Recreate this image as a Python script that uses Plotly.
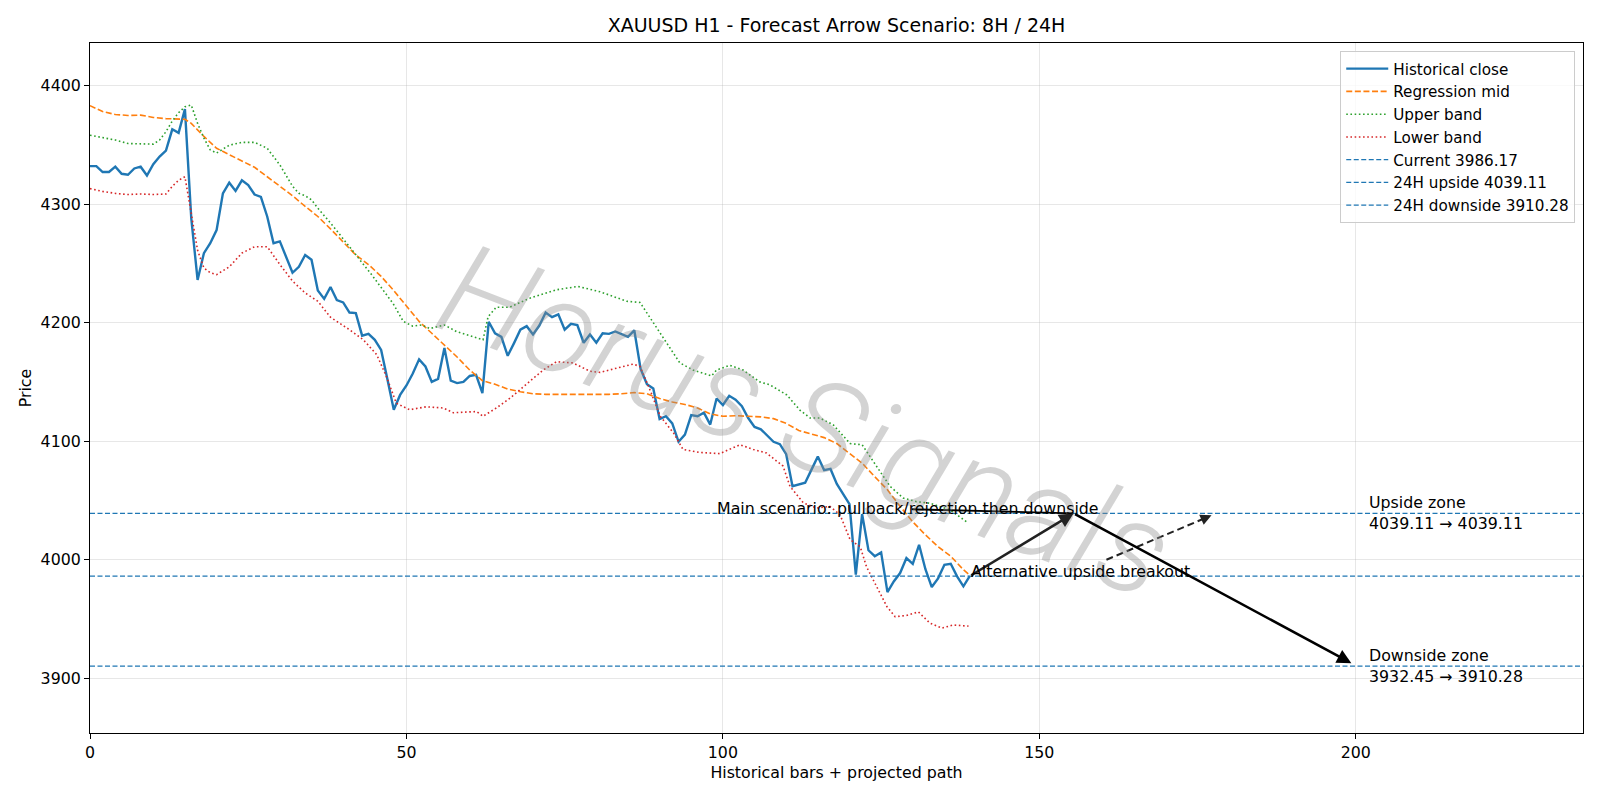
import plotly.graph_objects as go

# ---------------- data ----------------
close = [4332, 4332, 4327, 4327, 4331.5, 4325.5, 4324.7, 4330, 4331.5, 4324,
         4333.6, 4340, 4345, 4363, 4360, 4380, 4288, 4236, 4258.6, 4267,
         4278, 4309, 4318, 4311, 4320, 4316, 4308, 4306, 4289.5, 4267,
         4268.5, 4256, 4242, 4247, 4257, 4253, 4227, 4220, 4230, 4219,
         4217, 4208.5, 4208, 4189, 4190.5, 4185.5, 4177, 4152, 4126.5, 4139,
         4147, 4157, 4169, 4163, 4150, 4152.6, 4178.5, 4151, 4149, 4150,
         4155, 4156, 4140.5, 4200.7, 4191, 4188, 4172, 4182.7, 4194, 4197,
         4190, 4197.5, 4208.5, 4204.6, 4207, 4194, 4199, 4198, 4183, 4190,
         4183, 4191, 4190.5, 4192.5, 4190.5, 4188, 4193.5, 4161, 4148, 4144.5,
         4118.6, 4121, 4115, 4099.5, 4105.5, 4122, 4121, 4124, 4114, 4136,
         4130.5, 4138.3, 4135, 4129.5, 4119.5, 4112, 4110, 4104.6, 4099.5, 4097.5,
         4089, 4062, 4063.5, 4065, 4076, 4087, 4075.5, 4076.6, 4064, 4055,
         4047, 3987.4, 4038.5, 4008, 4003, 4006.2, 3972.7, 3981.7, 3988.8, 4001.4,
         3996.6, 4012.6, 3992, 3977, 3984.3, 3995.8, 3996.6, 3986, 3977.6, 3986.17]
bars = list(range(len(close)))

mid_x = [0, 2, 4, 6, 8, 10, 12, 14, 15, 16, 18, 20, 22, 24, 26, 28, 30, 32, 34, 36,
         38, 40, 42, 44, 46, 48, 50, 52, 54, 56, 58, 60, 62, 64, 66, 68, 70, 72, 74, 76,
         78, 80, 82, 84, 86, 88, 90, 92, 94, 96, 98, 100, 102, 104, 106, 108, 110, 112, 114, 116,
         118, 120, 122, 124, 126, 128, 130, 132, 134, 136, 138, 139]
mid_y = [4383, 4378, 4375.5, 4374.7, 4375, 4373, 4372, 4371.5, 4371.5, 4368, 4357, 4347, 4341.5, 4336, 4331, 4323, 4315, 4307, 4298, 4289.5,
         4279, 4268, 4257, 4249, 4239, 4227, 4214, 4201, 4191, 4181, 4171, 4160, 4151, 4148, 4144, 4141.7, 4140, 4139.5, 4139.5, 4139.5,
         4139, 4139, 4139.5, 4140, 4141, 4140, 4136, 4133, 4131, 4128, 4123, 4121, 4121.5, 4121, 4120.5, 4119, 4115, 4109, 4106, 4103,
         4098, 4090, 4081.5, 4070, 4059, 4045, 4032, 4021, 4011, 4003, 3991.6, 3987]

upper_x = [0, 2, 4, 6, 8, 10, 11, 12, 13, 14, 15, 16, 17, 18, 19, 20, 22, 24, 26, 28,
           30, 32, 33, 34, 35, 36, 38, 40, 41, 44.7, 47.9, 49.5, 51, 52.4, 53.7, 56, 57.9, 60, 62.1, 62.9,
           64.2, 66.3, 69.5, 73.7, 77.1, 80.6, 84.8, 86.9, 89, 91.1, 93.2, 95.3, 98.2, 99, 101.1, 103.2, 105.8, 107.4, 110.1, 112.2,
           113.8, 115.3, 117.4, 120.1, 122, 124.3, 126.4, 128.5, 130.6, 132.7, 135.9, 138.5]
upper_y = [4358, 4356, 4354, 4351, 4351, 4350.5, 4354, 4361, 4370, 4377, 4382, 4383.5, 4368, 4355.5, 4345.7, 4343, 4349.6, 4352, 4352, 4347,
           4333, 4315, 4309, 4307, 4303.5, 4296.5, 4284, 4271, 4264, 4239, 4216, 4201, 4197, 4198, 4195, 4198, 4192.5, 4189, 4185.5, 4205,
           4213, 4213, 4220.6, 4227.7, 4230.5, 4226, 4218, 4217, 4199.5, 4183, 4166, 4160, 4155, 4160, 4164, 4160, 4150, 4147.6, 4139, 4126,
           4119.5, 4119.5, 4114, 4098, 4097, 4079, 4062, 4052, 4049, 4047.7, 4042, 4032]

lower_x = [0, 2, 4, 6, 8, 10, 12, 13, 14, 15, 16, 17, 18, 19, 20, 22, 24, 26, 28, 29,
           30, 32, 34, 36, 38, 41, 43.2, 45.3, 46.8, 48.4, 50.5, 53.1, 55.8, 57.4, 61.1, 62.1, 64.2, 66.3, 69.5, 71.6,
           73.7, 76.3, 79, 80.6, 83.2, 85.8, 86.9, 88.5, 90.1, 92.2, 93.7, 96.3, 99.5, 102.7, 104.8, 106.9, 109.5, 110.6, 112.7, 114.8,
           116.9, 118.5, 120.1, 121.7, 122.7, 124.3, 125.9, 127.2, 129, 130.9, 132.7, 134.6, 136.4, 138.8]
lower_y = [4313, 4310.6, 4309, 4308, 4308.5, 4308, 4308.5, 4315, 4320, 4323, 4292, 4261, 4246, 4242, 4240.5, 4247, 4258.6, 4264, 4264, 4256,
           4249, 4235, 4225, 4218, 4204.5, 4194, 4185.5, 4173, 4155, 4132, 4126.5, 4129, 4128, 4124, 4125, 4121, 4128, 4136, 4150, 4160,
           4167, 4166, 4159, 4158, 4161.6, 4165, 4163, 4143, 4121, 4107, 4093, 4090.5, 4089.5, 4097, 4093, 4090, 4079, 4062, 4048, 4043.6,
           4045, 4038, 4017, 4011, 3994, 3977.5, 3960.6, 3952, 3953, 3956, 3946.6, 3942.4, 3945, 3944]

current = 3986.17
up_24h = 4039.11
down_24h = 3910.28
down_8h = 3932.45

# projected path (bar index, price)
path_x = [139, 155.4, 199.3]
path_y = [current, up_24h, 3912.8]
alt_x = [160.6, 177.2]
alt_y = [4000.0, 4037.5]

x_range = [0, 235.9]
y_range = [3853.9, 4435.8]

FONT = "DejaVu Sans"
FS = 15.8
C0 = "#1f77b4"

fig = go.Figure()
fig.add_trace(go.Scatter(x=bars, y=close, mode="lines", name="Historical close",
                         line=dict(color=C0, width=2.4)))
fig.add_trace(go.Scatter(x=mid_x, y=mid_y, mode="lines", name="Regression mid",
                         line=dict(color="#ff7f0e", width=1.6, dash="6px,2.6px")))
fig.add_trace(go.Scatter(x=upper_x, y=upper_y, mode="lines", name="Upper band",
                         line=dict(color="#2ca02c", width=1.6, dash="1.6px,2.6px")))
fig.add_trace(go.Scatter(x=lower_x, y=lower_y, mode="lines", name="Lower band",
                         line=dict(color="#d62728", width=1.6, dash="1.6px,2.6px")))
for val, nm in [(current, f"Current {current:.2f}"),
                (up_24h, f"24H upside {up_24h:.2f}"),
                (down_24h, f"24H downside {down_24h:.2f}")]:
    fig.add_trace(go.Scatter(x=x_range, y=[val, val], mode="lines", name=nm,
                             line=dict(color=C0, width=1.3, dash="5px,2.5px")))

anns = []
# watermark
anns.append(dict(x=113.1, y=4117, xref="x", yref="y", text="Horus Signals",
                 showarrow=False, textangle=21,
                 font=dict(family="Roboto", size=130, color="rgba(140,140,140,0.38)",
                           weight=300, style="italic")))
# main path arrows
anns.append(dict(x=path_x[1], y=path_y[1], ax=path_x[0], ay=path_y[0], xref="x", yref="y",
                 axref="x", ayref="y", text="", showarrow=True, arrowhead=2, arrowsize=1.1,
                 arrowwidth=2.6, arrowcolor="#222222", standoff=0, startstandoff=0))
anns.append(dict(x=path_x[2], y=path_y[2], ax=path_x[1], ay=path_y[1], xref="x", yref="y",
                 axref="x", ayref="y", text="", showarrow=True, arrowhead=2, arrowsize=1.1,
                 arrowwidth=2.6, arrowcolor="black", standoff=0, startstandoff=0))
# alternative arrow head
anns.append(dict(x=alt_x[1], y=alt_y[1], ax=alt_x[1] - 1.5, ay=alt_y[1] - 3.6, xref="x", yref="y",
                 axref="x", ayref="y", text="", showarrow=True, arrowhead=2, arrowsize=1.1,
                 arrowwidth=2, arrowcolor="#222222", standoff=0, startstandoff=0))
# texts
anns.append(dict(x=129.2, y=4043.4, xref="x", yref="y", text="Main scenario: pullback/rejection then downside",
                 showarrow=False, xanchor="center", yanchor="middle", borderpad=0,
                 font=dict(family=FONT, size=FS, color="black")))
anns.append(dict(x=139.0, y=3990.5, xref="x", yref="y", text="Alternative upside breakout",
                 showarrow=False, xanchor="left", yanchor="middle", borderpad=0,
                 font=dict(family=FONT, size=FS, color="black")))
anns.append(dict(x=202.0, y=up_24h, xref="x", yref="y",
                 text=f"Upside zone<br>{up_24h:.2f} \u2192 {up_24h:.2f}",
                 showarrow=False, xanchor="left", yanchor="middle", align="left", borderpad=0,
                 font=dict(family=FONT, size=FS, color="black")))
anns.append(dict(x=202.0, y=down_24h, xref="x", yref="y",
                 text=f"Downside zone<br>{down_8h:.2f} \u2192 {down_24h:.2f}",
                 showarrow=False, xanchor="left", yanchor="middle", align="left", borderpad=0,
                 font=dict(family=FONT, size=FS, color="black")))

shapes = [
    dict(type="line", xref="x", yref="y", x0=129.8, y0=4042.6, x1=path_x[1], y1=path_y[1],
         line=dict(color="black", width=1.8), layer="above"),
    dict(type="line", xref="x", yref="y", x0=alt_x[0], y0=alt_y[0], x1=alt_x[1] - 0.8, y1=alt_y[1] - 1.9,
         line=dict(color="#222222", width=2, dash="7px,4px"), layer="above"),
]

axis_common = dict(showline=True, linecolor="black", linewidth=1.1, mirror=True,
                   ticks="outside", ticklen=5, tickwidth=1.1, tickcolor="black",
                   showgrid=True, gridcolor="rgba(176,176,176,0.3)", gridwidth=1,
                   zeroline=False, tickfont=dict(family=FONT, size=FS, color="black"))

fig.update_layout(
    width=1600, height=800,
    margin=dict(l=90, r=17, t=43, b=67),
    paper_bgcolor="white", plot_bgcolor="white",
    font=dict(family=FONT, size=FS, color="black"),
    title=dict(text="XAUUSD H1 - Forecast Arrow Scenario: 8H / 24H", x=0.5, xref="paper",
               y=1 - 25 / 800, yref="container", xanchor="center", yanchor="middle",
               font=dict(family=FONT, size=19, color="black")),
    xaxis=dict(range=x_range, tickvals=[0, 50, 100, 150, 200],
               title=dict(text="Historical bars + projected path", standoff=5,
                          font=dict(family=FONT, size=FS, color="black")),
               **axis_common),
    yaxis=dict(range=y_range, tickvals=[3900, 4000, 4100, 4200, 4300, 4400],
               title=dict(text="Price", standoff=5, font=dict(family=FONT, size=FS, color="black")),
               **axis_common),
    legend=dict(x=0.9948, y=0.988, xanchor="right", yanchor="top", itemwidth=42,
                bgcolor="rgba(255,255,255,0.8)", bordercolor="#cccccc", borderwidth=1,
                font=dict(family=FONT, size=15.2, color="black")),
    annotations=anns,
    shapes=shapes,
    showlegend=True,
)

fig.write_html("out.html")
